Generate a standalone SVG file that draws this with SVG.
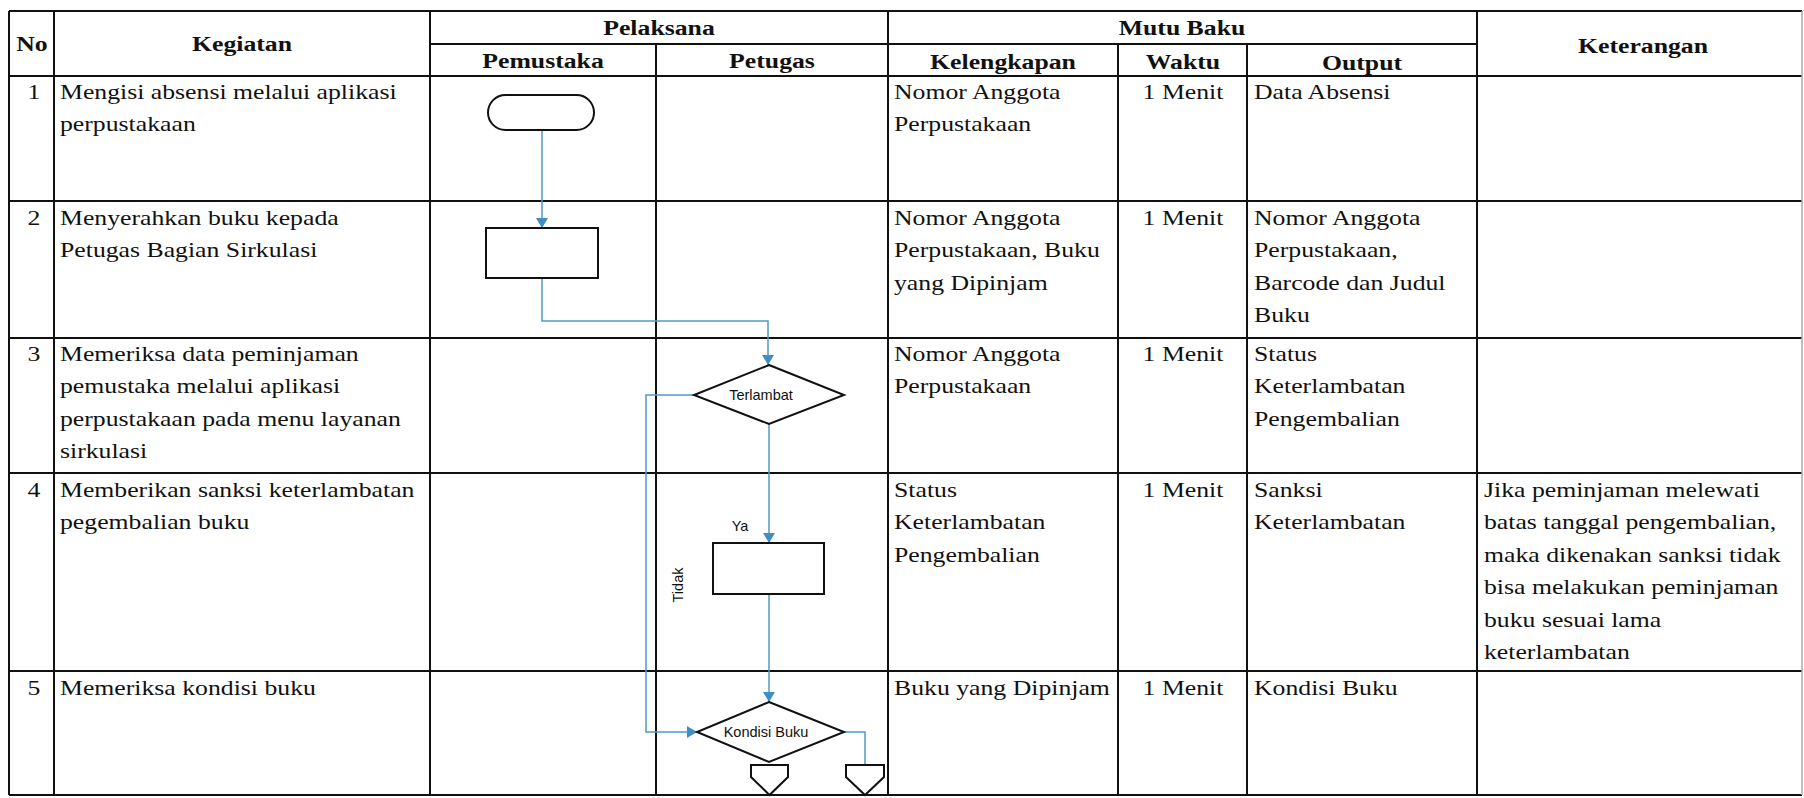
<svg xmlns="http://www.w3.org/2000/svg" width="1804" height="798" viewBox="0 0 1804 798">
<style>
.t{font-family:"Liberation Serif","Times New Roman",serif;font-size:22px;fill:#111}
.h{font-weight:bold;text-anchor:middle}
.c{text-anchor:middle}
.f{font-family:"Liberation Sans",Arial,sans-serif;font-size:14.5px;fill:#111}
.fc{text-anchor:middle}
.grid line{stroke:#111;stroke-width:2}
.grid line.edge{stroke:#aaa;stroke-width:1.5}
.shape{fill:#fff;stroke:#111;stroke-width:2}
.conn{fill:none;stroke:#4f9ac6;stroke-width:1.5}
</style>
<defs>
<marker id="arr" viewBox="0 0 10 12" refX="10" refY="6" markerWidth="10" markerHeight="12" markerUnits="userSpaceOnUse" orient="auto">
<path d="M0,0 L10,6 L0,12 z" fill="#3f8fc2"/>
</marker>
</defs>
<rect width="1804" height="798" fill="#fff"/>
<g id="table" class="grid">
<line x1="9" y1="11" x2="1802" y2="11"/>
<line x1="430" y1="44" x2="1477" y2="44"/>
<line x1="9" y1="76" x2="1802" y2="76"/>
<line x1="9" y1="201" x2="1802" y2="201"/>
<line x1="9" y1="338" x2="1802" y2="338"/>
<line x1="9" y1="473" x2="1802" y2="473"/>
<line x1="9" y1="671" x2="1802" y2="671"/>
<line x1="9" y1="795" x2="1802" y2="795"/>
<line x1="9" y1="11" x2="9" y2="795"/>
<line x1="54" y1="11" x2="54" y2="795"/>
<line x1="430" y1="11" x2="430" y2="795"/>
<line x1="656" y1="44" x2="656" y2="795"/>
<line x1="888" y1="11" x2="888" y2="795"/>
<line x1="1118" y1="44" x2="1118" y2="795"/>
<line x1="1247" y1="44" x2="1247" y2="795"/>
<line x1="1477" y1="11" x2="1477" y2="795"/>
<line class="edge" x1="1802" y1="11" x2="1802" y2="795"/>
</g>
<g id="headers">
<text class="t h" transform="translate(32,51) scale(1.17,1)">No</text>
<text class="t h" transform="translate(242,51) scale(1.17,1)">Kegiatan</text>
<text class="t h" transform="translate(659,35) scale(1.17,1)">Pelaksana</text>
<text class="t h" transform="translate(543,68) scale(1.17,1)">Pemustaka</text>
<text class="t h" transform="translate(772,68) scale(1.17,1)">Petugas</text>
<text class="t h" transform="translate(1182,35) scale(1.17,1)">Mutu Baku</text>
<text class="t h" transform="translate(1003,69) scale(1.17,1)">Kelengkapan</text>
<text class="t h" transform="translate(1183,69) scale(1.17,1)">Waktu</text>
<text class="t h" transform="translate(1362,70) scale(1.17,1)">Output</text>
<text class="t h" transform="translate(1643,53) scale(1.17,1)">Keterangan</text>
</g>
<g id="row1">
<text class="t c" transform="translate(34,99) scale(1.17,1)">1</text>
<text class="t" transform="translate(60,99) scale(1.17,1)"><tspan x="0">Mengisi absensi melalui aplikasi</tspan><tspan x="0" dy="32.5">perpustakaan</tspan></text>
<text class="t" transform="translate(894,99) scale(1.17,1)"><tspan x="0">Nomor Anggota</tspan><tspan x="0" dy="32.5">Perpustakaan</tspan></text>
<text class="t c" transform="translate(1183,99) scale(1.17,1)">1 Menit</text>
<text class="t" transform="translate(1254,99) scale(1.17,1)">Data Absensi</text>
</g>
<g id="row2">
<text class="t c" transform="translate(34,225) scale(1.17,1)">2</text>
<text class="t" transform="translate(60,225) scale(1.17,1)"><tspan x="0">Menyerahkan buku kepada</tspan><tspan x="0" dy="32.5">Petugas Bagian Sirkulasi</tspan></text>
<text class="t" transform="translate(894,225) scale(1.17,1)"><tspan x="0">Nomor Anggota</tspan><tspan x="0" dy="32.5">Perpustakaan, Buku</tspan><tspan x="0" dy="32.5">yang Dipinjam</tspan></text>
<text class="t c" transform="translate(1183,225) scale(1.17,1)">1 Menit</text>
<text class="t" transform="translate(1254,225) scale(1.17,1)"><tspan x="0">Nomor Anggota</tspan><tspan x="0" dy="32.5">Perpustakaan,</tspan><tspan x="0" dy="32.5">Barcode dan Judul</tspan><tspan x="0" dy="32.5">Buku</tspan></text>
</g>
<g id="row3">
<text class="t c" transform="translate(34,361) scale(1.17,1)">3</text>
<text class="t" transform="translate(60,361) scale(1.17,1)"><tspan x="0">Memeriksa data peminjaman</tspan><tspan x="0" dy="32.5">pemustaka melalui aplikasi</tspan><tspan x="0" dy="32.5">perpustakaan pada menu layanan</tspan><tspan x="0" dy="32.5">sirkulasi</tspan></text>
<text class="t" transform="translate(894,361) scale(1.17,1)"><tspan x="0">Nomor Anggota</tspan><tspan x="0" dy="32.5">Perpustakaan</tspan></text>
<text class="t c" transform="translate(1183,361) scale(1.17,1)">1 Menit</text>
<text class="t" transform="translate(1254,361) scale(1.17,1)"><tspan x="0">Status</tspan><tspan x="0" dy="32.5">Keterlambatan</tspan><tspan x="0" dy="32.5">Pengembalian</tspan></text>
</g>
<g id="row4">
<text class="t c" transform="translate(34,497) scale(1.17,1)">4</text>
<text class="t" transform="translate(60,497) scale(1.17,1)"><tspan x="0">Memberikan sanksi keterlambatan</tspan><tspan x="0" dy="32.5">pegembalian buku</tspan></text>
<text class="t" transform="translate(894,497) scale(1.17,1)"><tspan x="0">Status</tspan><tspan x="0" dy="32.5">Keterlambatan</tspan><tspan x="0" dy="32.5">Pengembalian</tspan></text>
<text class="t c" transform="translate(1183,497) scale(1.17,1)">1 Menit</text>
<text class="t" transform="translate(1254,497) scale(1.17,1)"><tspan x="0">Sanksi</tspan><tspan x="0" dy="32.5">Keterlambatan</tspan></text>
<text class="t" transform="translate(1484,497) scale(1.17,1)"><tspan x="0">Jika peminjaman melewati</tspan><tspan x="0" dy="32.5">batas tanggal pengembalian,</tspan><tspan x="0" dy="32.5">maka dikenakan sanksi tidak</tspan><tspan x="0" dy="32.5">bisa melakukan peminjaman</tspan><tspan x="0" dy="32.5">buku sesuai lama</tspan><tspan x="0" dy="32.5">keterlambatan</tspan></text>
</g>
<g id="row5">
<text class="t c" transform="translate(34,695) scale(1.17,1)">5</text>
<text class="t" transform="translate(60,695) scale(1.17,1)">Memeriksa kondisi buku</text>
<text class="t" transform="translate(894,695) scale(1.17,1)">Buku yang Dipinjam</text>
<text class="t c" transform="translate(1183,695) scale(1.17,1)">1 Menit</text>
<text class="t" transform="translate(1254,695) scale(1.17,1)">Kondisi Buku</text>
</g>
<g id="connectors">
<path class="conn" d="M542,130 V228" marker-end="url(#arr)"/>
<path class="conn" d="M542,278 V321 H768 V365" marker-end="url(#arr)"/>
<path class="conn" d="M769,424 V543" marker-end="url(#arr)"/>
<path class="conn" d="M769,594 V702" marker-end="url(#arr)"/>
<path class="conn" d="M694,395 H646 V732 H697" marker-end="url(#arr)"/>
<path class="conn" d="M844,732 H865 V765"/>
<text class="f fc" x="740" y="531">Ya</text>
<text class="f fc" transform="translate(683,585) rotate(-90)">Tidak</text>
</g>
<g id="start">
<rect class="shape" x="488" y="95" width="106" height="35" rx="17.5" ry="17.5"/>
</g>
<g id="serahkan">
<rect class="shape" x="486" y="228" width="112" height="50"/>
</g>
<g id="terlambat">
<polygon class="shape" points="769,365 844,395 769,424 694,395"/>
<text class="f fc" x="761" y="400">Terlambat</text>
</g>
<g id="sanksi">
<rect class="shape" x="713" y="543" width="111" height="51"/>
</g>
<g id="kondisi">
<polygon class="shape" points="769,702 844,732 769,762 697,732"/>
<text class="f fc" x="766" y="737">Kondisi Buku</text>
</g>
<g id="offpage1">
<polygon class="shape" points="751,765 788,765 788,777 769.5,795 751,777"/>
</g>
<g id="offpage2">
<polygon class="shape" points="846,765 884,765 884,777 865,795 846,777"/>
</g>
</svg>
